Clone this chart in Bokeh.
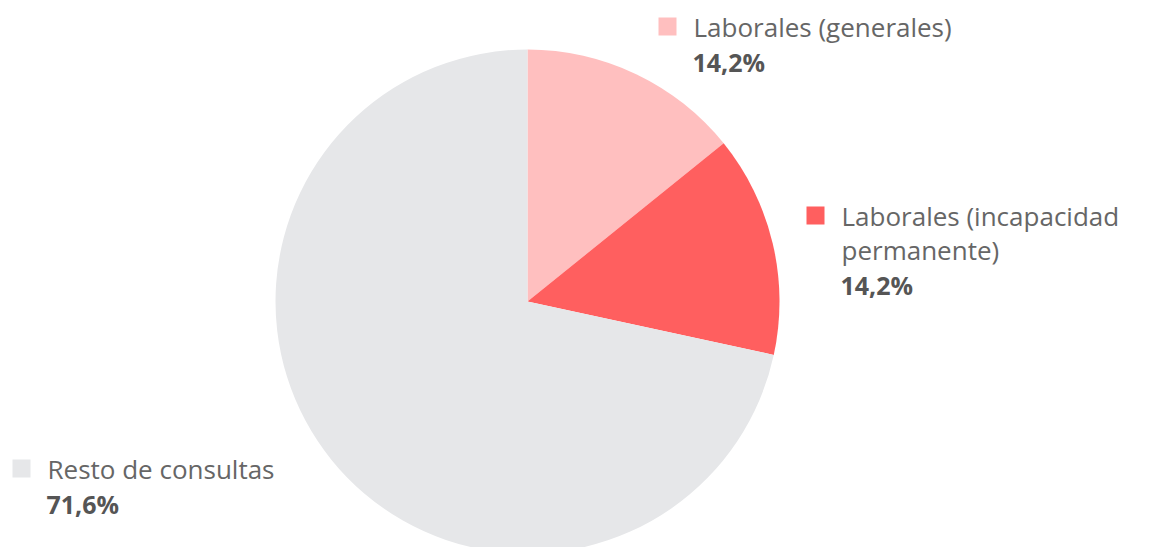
from math import pi
from bokeh.plotting import figure
from bokeh.models import Range1d
from bokeh.core.properties import value
from bokeh.embed import file_html
from bokeh.resources import INLINE

categories = ["Laborales (generales)", "Laborales (incapacidad permanente)", "Resto de consultas"]
label_lines = [["Laborales (generales)"], ["Laborales (incapacidad", "permanente)"], ["Resto de consultas"]]
values = [14.2, 14.2, 71.6]
pct_labels = ["14,2%", "14,2%", "71,6%"]
colors = ["#FFBFBF", "#FF5F5F", "#E6E7E9"]

W, H = 1151, 547
p = figure(width=W, height=H, output_backend="svg", toolbar_location=None,
           x_range=Range1d(0, W), y_range=Range1d(0, H), min_border=0)
p.axis.visible = False
p.grid.visible = False
p.outline_line_color = None
p.background_fill_color = "white"
p.border_fill_color = "white"

def Y(py):
    return H - py

cx, cy, r = 527, 301, 252
total = sum(values)
cum = 0.0
starts, ends = [], []
for v in values:
    starts.append(pi / 2 - cum / total * 2 * pi)
    cum += v
    ends.append(pi / 2 - cum / total * 2 * pi)
p.wedge(x=[cx] * 3, y=[Y(cy)] * 3, radius=r,
        start_angle=starts, end_angle=ends,
        direction="clock", fill_color=colors, line_color=None)

anchors = [(658, 26), (806, 215), (12, 468)]
sq = 18
font = value("Open Sans")
for (ax, ay), lines, pct, col in zip(anchors, label_lines, pct_labels, colors):
    p.rect(x=[ax + sq / 2], y=[Y(ay)], width=sq, height=sq, fill_color=col, line_color=None)
    tx = ax + 35
    for i, ln in enumerate(lines):
        p.text(x=[tx], y=[Y(ay + i * 34)], text=[ln], text_font=font, text_font_size="26px",
               text_color="#666666", text_baseline="middle", text_align="left")
    p.text(x=[tx - 1], y=[Y(ay + len(lines) * 34 + 1)], text=[pct], text_font=font,
           text_font_size="25px", text_font_style="bold", text_color="#555555",
           text_baseline="middle", text_align="left")

open("out.html", "w").write(file_html(p, INLINE))
